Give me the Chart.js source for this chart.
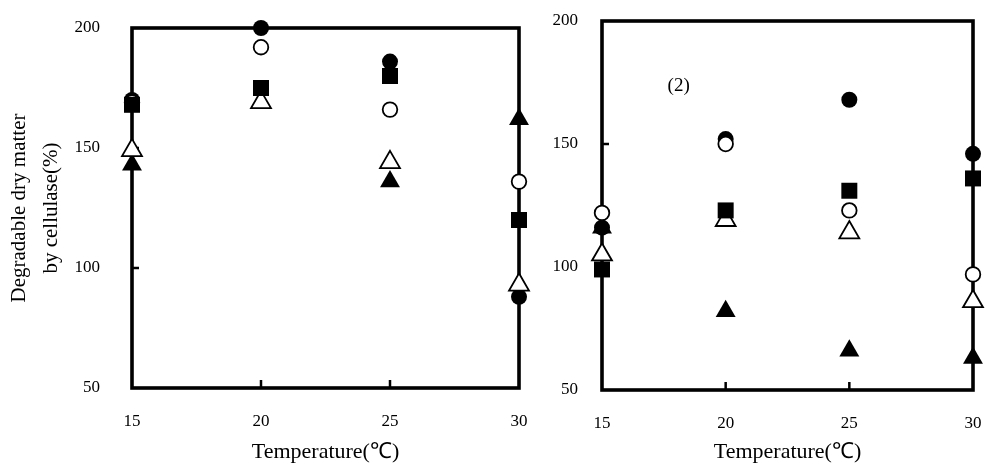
<!DOCTYPE html>
<html lang="en">
<head>
<meta charset="UTF-8">
<title>Degradable dry matter by cellulase</title>
<script src="https://cdn.jsdelivr.net/npm/chart.js"></script>
<style>
    body {
    margin: 0;
    padding: 0;
    background: white;
    }
    #wrap {
    position: relative;
    width: 987px;
    height: 468px;
    }
    #left-box {
    position: absolute;
    left: 0;
    top: 0;
    width: 540px;
    height: 468px;
    }
    #right-box {
    position: absolute;
    left: 540px;
    top: 0;
    width: 447px;
    height: 468px;
    }
</style>
</head>
<body>
<div id="wrap">
    <div id="left-box"><canvas id="chart-left"></canvas></div>
    <div id="right-box"><canvas id="chart-right"></canvas></div>
</div>

<script>
// temperatures (x axis)
const temps = [15, 20, 25, 30];
const xTicks = [15, 20, 25, 30];
const yTicks = [50, 100, 150, 200];

// panel (1)
const leftFilledCircle = [170, 200, 186, 88];
const leftOpenCircle = [169, 192, 166, 136];
const leftFilledSquare = [168, 175, 180, 120];
const leftOpenTriangle = [149, 169, 144, 93];
const leftFilledTriangle = [143, 169, 136, 162];

// panel (2)
const rightFilledCircle = [116, 152, 168, 146];
const rightOpenCircle = [122, 150, 123, 97];
const rightFilledSquare = [99, 123, 131, 136];
const rightOpenTriangle = [105, 119, 114, 86];
const rightFilledTriangle = [116, 82, 66, 63];

const FONT = "'Liberation Serif', 'Times New Roman', serif";

function pts(vals) {
    return temps.map((t, i) => ({ x: t, y: vals[i] }));
}

// dataset 0 is drawn on top
function makeSets(fc, oc, fs, ot, ft) {
    const base = { showLine: false, clip: false };
    return [
        Object.assign({ label: "filled square", data: pts(fs), pointStyle: "rect", pointRadius: 11.3,
            backgroundColor: "#000", borderColor: "#000", borderWidth: 0 }, base),
        Object.assign({ label: "open triangle", data: pts(ot), pointStyle: "triangle", pointRadius: 11.5,
            backgroundColor: "#fff", borderColor: "#000", borderWidth: 1.8 }, base),
        Object.assign({ label: "open circle", data: pts(oc), pointStyle: "circle", pointRadius: 7.3,
            backgroundColor: "#fff", borderColor: "#000", borderWidth: 1.8 }, base),
        Object.assign({ label: "filled circle", data: pts(fc), pointStyle: "circle", pointRadius: 8,
            backgroundColor: "#000", borderColor: "#000", borderWidth: 0 }, base),
        Object.assign({ label: "filled triangle", data: pts(ft), pointStyle: "triangle", pointRadius: 11.5,
            backgroundColor: "#000", borderColor: "#000", borderWidth: 0 }, base)
    ];
}

// box around the plot + small inward ticks, drawn under the markers
const framePlugin = {
    id: "frame",
    beforeDatasetsDraw(chart) {
        const { ctx, chartArea, scales } = chart;
        ctx.save();
        ctx.strokeStyle = "#000";
        ctx.lineWidth = 3.6;
        ctx.strokeRect(chartArea.left, chartArea.top, chartArea.right - chartArea.left, chartArea.bottom - chartArea.top);
        ctx.lineWidth = 2.5;
        ctx.beginPath();
        [100, 150].forEach(v => {
            const y = scales.y.getPixelForValue(v);
            ctx.moveTo(chartArea.left, y);
            ctx.lineTo(chartArea.left + 7, y);
        });
        [20, 25].forEach(v => {
            const x = scales.x.getPixelForValue(v);
            ctx.moveTo(x, chartArea.bottom);
            ctx.lineTo(x, chartArea.bottom - 8);
        });
        ctx.stroke();
        const note = chart.options.plugins.frame && chart.options.plugins.frame.note;
        if (note) {
            ctx.fillStyle = "#000";
            ctx.font = "19px " + FONT;
            ctx.textAlign = "center";
            ctx.textBaseline = "middle";
            ctx.fillText(note.text, scales.x.getPixelForValue(note.x), scales.y.getPixelForValue(note.y));
        }
        ctx.restore();
    }
};

function makeOptions(yWidth, yPad, xHeight, pad, yTitle, note) {
    return {
        responsive: true,
        maintainAspectRatio: false,
        animation: false,
        layout: { padding: pad, autoPadding: false },
        plugins: {
            legend: { display: false },
            tooltip: { enabled: false },
            frame: { note: note }
        },
        scales: {
            x: {
                type: "linear",
                min: 15,
                max: 30,
                afterBuildTicks(scale) { scale.ticks = xTicks.map(v => ({ value: v })); },
                afterFit(scale) {
                    scale.height = xHeight;
                    scale.paddingLeft = 0;
                    scale.paddingRight = 0;
                },
                grid: { display: false, drawTicks: false },
                border: { display: false },
                ticks: { color: "#000", padding: 23, font: { family: FONT, size: 17 } },
                title: {
                    display: true,
                    text: "Temperature(℃)",
                    color: "#000",
                    font: { family: FONT, size: 22 },
                    padding: { top: 0, bottom: 3 }
                }
            },
            y: {
                min: 50,
                max: 200,
                afterBuildTicks(scale) { scale.ticks = yTicks.map(v => ({ value: v })); },
                afterFit(scale) {
                    scale.width = yWidth;
                    scale.paddingTop = 0;
                    scale.paddingBottom = 0;
                },
                grid: { display: false, drawTicks: false },
                border: { display: false },
                ticks: { color: "#000", padding: yPad, font: { family: FONT, size: 17 } },
                title: yTitle
            }
        }
    };
}

new Chart(document.getElementById("chart-left").getContext("2d"), {
    type: "scatter",
    data: { datasets: makeSets(leftFilledCircle, leftOpenCircle, leftFilledSquare, leftOpenTriangle, leftFilledTriangle) },
    options: makeOptions(132, 32, 80, { top: 28, right: 21, left: 0, bottom: 0 }, {
        display: true,
        text: ["Degradable dry matter", "by cellulase(%)"],
        color: "#000",
        font: { family: FONT, size: 21, lineHeight: 1.5 },
        padding: { top: 4, bottom: 0 }
    }, null),
    plugins: [framePlugin]
});

new Chart(document.getElementById("chart-right").getContext("2d"), {
    type: "scatter",
    data: { datasets: makeSets(rightFilledCircle, rightOpenCircle, rightFilledSquare, rightOpenTriangle, rightFilledTriangle) },
    options: makeOptions(62, 24, 78, { top: 21, right: 14, left: 0, bottom: 0 }, { display: false },
        { text: "(2)", x: 18.1, y: 173.5 }),
    plugins: [framePlugin]
});
</script>
</body>
</html>
